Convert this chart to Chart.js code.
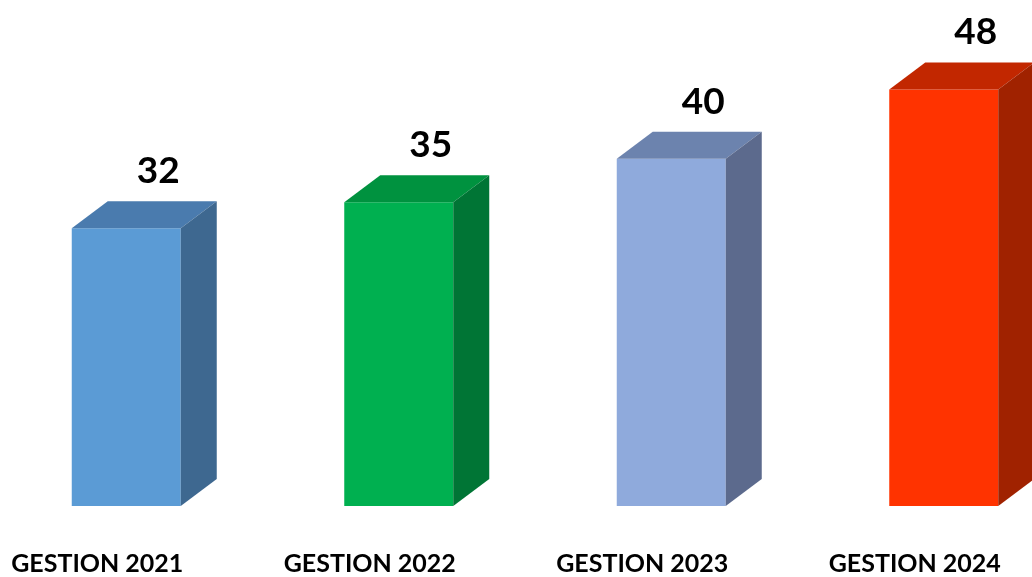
<!DOCTYPE html>
<html>
<head>
<meta charset="utf-8">
<script src="https://cdn.jsdelivr.net/npm/chart.js@4.4.1/dist/chart.umd.min.js"></script>
<style>
    html, body { margin: 0; padding: 0; background: #fff; overflow: hidden; width: 1032px; height: 577px; }
    #myChart { position: absolute; left: -10px; top: 0; }
</style>
</head>
<body>
<canvas id="myChart" width="1090" height="635"></canvas>
<script>
const categories = ['GESTION 2021', 'GESTION 2022', 'GESTION 2023', 'GESTION 2024'];
const values = [32, 35, 40, 48];
const frontColors = ['#5B9BD5', '#00B050', '#8FAADC', '#FF3300'];
const topColors = ['#4A7BAE', '#00923F', '#6C83AE', '#C22700'];
const sideColors = ['#3E6890', '#007535', '#5C6A8D', '#A02200'];

// depth of the fake 3d box
const depthX = 36;
const depthY = 27;

const box3d = {
    id: 'box3d',
    afterDatasetsDraw(chart) {
        const ctx = chart.ctx;
        const meta = chart.getDatasetMeta(0);
        ctx.save();
        meta.data.forEach((bar, i) => {
            const left = bar.x - bar.width / 2;
            const right = bar.x + bar.width / 2;
            const top = bar.y;
            const base = bar.base;

            // top face
            ctx.fillStyle = topColors[i];
            ctx.beginPath();
            ctx.moveTo(left, top);
            ctx.lineTo(left + depthX, top - depthY);
            ctx.lineTo(right + depthX, top - depthY);
            ctx.lineTo(right, top);
            ctx.closePath();
            ctx.fill();

            // side face
            ctx.fillStyle = sideColors[i];
            ctx.beginPath();
            ctx.moveTo(right, top);
            ctx.lineTo(right + depthX, top - depthY);
            ctx.lineTo(right + depthX, base - depthY);
            ctx.lineTo(right, base);
            ctx.closePath();
            ctx.fill();

            // value label
            ctx.fillStyle = '#000';
            ctx.font = 'bold 37px Lato';
            ctx.textAlign = 'center';
            ctx.textBaseline = 'alphabetic';
            ctx.fillText(values[i], bar.x + 32, top - depthY - 18);
        });
        ctx.restore();
    }
};

let myChart = new Chart(document.getElementById('myChart'), {
    type: 'bar',
    data: {
        labels: categories,
        datasets: [{
            data: values,
            backgroundColor: frontColors,
            borderWidth: 0,
            categoryPercentage: 1,
            barPercentage: 0.4
        }]
    },
    options: {
        responsive: false,
        animation: false,
        events: [],
        layout: {
            padding: { left: 0, right: 0, top: 0, bottom: 21 }
        },
        plugins: {
            legend: { display: false },
            tooltip: { enabled: false }
        },
        scales: {
            x: {
                grid: { display: false },
                border: { display: false },
                ticks: {
                    color: '#000',
                    padding: 35,
                    labelOffset: -29,
                    font: { family: 'Lato', weight: 'bold', size: 25 }
                }
            },
            y: {
                display: false,
                min: 0,
                max: 58.3
            }
        }
    },
    plugins: [box3d]
});
</script>
</body>
</html>
